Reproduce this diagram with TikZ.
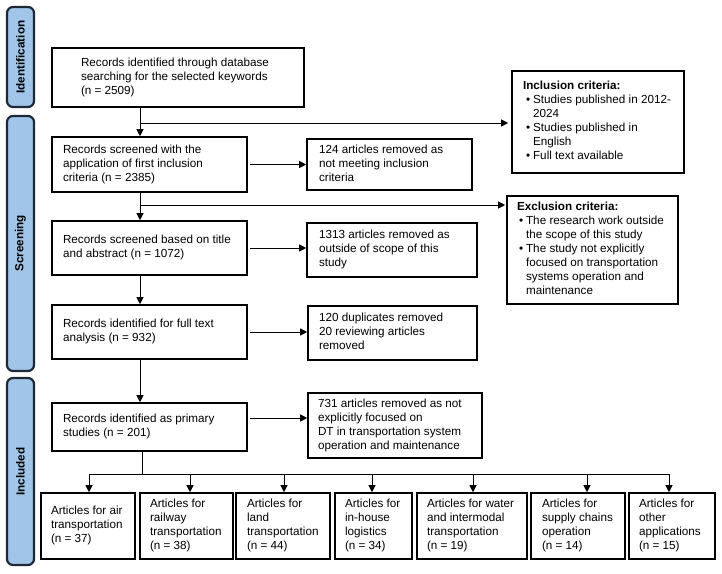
\documentclass[tikz,border=0pt]{standalone}
\usepackage{fontspec}
\setmainfont{Liberation Sans}
\usetikzlibrary{arrows.meta}
\definecolor{sidefill}{RGB}{160,197,232}
\definecolor{sidedraw}{RGB}{30,40,55}
\newcommand{\bt}[3]{\makebox[#1pt][l]{\hspace*{#2pt}\begin{tabular}{@{}l@{}}#3\end{tabular}}}
\newcommand{\crit}[4]{\makebox[#1pt][l]{\hspace*{#2pt}\begin{tabular}{@{}l@{\hspace{3pt}}l@{}}\multicolumn{2}{@{}l@{}}{\textbf{#3}}\\#4\end{tabular}}}
\begin{document}
\begin{tikzpicture}[x=1pt,y=-1pt,
  font=\fontsize{11.7}{14}\selectfont,
  box/.style={draw, line width=1.6pt, inner sep=0pt, anchor=center},
  side/.style={draw=sidedraw, fill=sidefill, line width=2.2pt, rounded corners=6pt, inner sep=0pt, rotate=90, minimum height=27pt, font=\fontsize{11.7}{14}\selectfont\bfseries},
  arr/.style={line width=0.9pt, -{Triangle[length=7pt,width=7pt]}},
  ln/.style={line width=0.9pt}]
\useasboundingbox (0,0) rectangle (722,573);

% side bars
\node[side, minimum width=100pt] (sid) at (20.5,57) {Identification};
\node[side, minimum width=255pt] (sscr) at (20.5,243.5) {Screening};
\node[side, minimum width=187pt] (sinc) at (20.5,471.5) {Included};

% main column
\node[box, minimum width=252pt, minimum height=59pt] (b1) at (178,77.5)
  {\bt{252}{29}{Records identified through database\\searching for the selected keywords\\(n = 2509)}};
\node[box, minimum width=195pt, minimum height=55pt] (b2) at (149.5,164.5)
  {\bt{195}{11}{Records screened with the\\application of first inclusion\\criteria (n = 2385)}};
\node[box, minimum width=195pt, minimum height=54pt] (b3) at (149.5,248)
  {\bt{195}{11}{Records screened based on title\\and abstract (n = 1072)}};
\node[box, minimum width=195pt, minimum height=54pt] (b4) at (149.5,332)
  {\bt{195}{11}{Records identified for full text\\analysis (n = 932)}};
\node[box, minimum width=195pt, minimum height=48pt] (b5) at (149.5,427)
  {\bt{195}{11}{Records identified as primary\\studies (n = 201)}};

% removal boxes
\node[box, minimum width=165pt, minimum height=51pt] (r1) at (389.5,164.5)
  {\bt{165}{12}{124 articles removed as\\not meeting inclusion\\criteria}};
\node[box, minimum width=170pt, minimum height=54pt] (r2) at (392,250)
  {\bt{170}{12}{1313 articles removed as\\outside of scope of this\\study}};
\node[box, minimum width=169pt, minimum height=54pt] (r3) at (392.5,333)
  {\bt{169}{11}{120 duplicates removed\\20 reviewing articles\\removed}};
\node[box, minimum width=174pt, minimum height=65pt] (r4) at (395,425.5)
  {\bt{174}{10}{731 articles removed as not\\explicitly focused on\\DT in transportation system\\operation and maintenance}};

% criteria boxes
\node[box, minimum width=172pt, minimum height=102pt] (inc) at (598,122)
  {\crit{172}{11}{Inclusion criteria:}{%
   \hspace*{3pt}\textbullet & Studies published in 2012-\\
   & 2024\\
   \hspace*{3pt}\textbullet & Studies published in\\
   & English\\
   \hspace*{3pt}\textbullet & Full text available}};
\node[box, minimum width=171pt, minimum height=108pt] (exc) at (592.5,250)
  {\crit{171}{10}{Exclusion criteria:}{%
   \hspace*{2pt}\textbullet & The research work outside\\
   & the scope of this study\\
   \hspace*{2pt}\textbullet & The study not explicitly\\
   & focused on transportation\\
   & systems operation and\\
   & maintenance}};

% category boxes
\node[box, minimum width=94pt, minimum height=66pt] (ca) at (88,526)
  {\bt{94}{10}{Articles for air\\transportation\\(n = 37)}};
\node[box, minimum width=93pt, minimum height=66pt] (cb) at (186.5,526)
  {\bt{93}{10}{Articles for\\railway\\transportation\\(n = 38)}};
\node[box, minimum width=94pt, minimum height=66pt] (cc) at (283,526)
  {\bt{94}{11}{Articles for\\land\\transportation\\(n = 44)}};
\node[box, minimum width=77pt, minimum height=66pt] (cd) at (373.5,526)
  {\bt{77}{10}{Articles for\\in-house\\logistics\\(n = 34)}};
\node[box, minimum width=110pt, minimum height=66pt] (ce) at (472,526)
  {\bt{110}{10}{Articles for water\\and intermodal\\transportation\\(n = 19)}};
\node[box, minimum width=94pt, minimum height=66pt] (cf) at (578,526)
  {\bt{94}{11}{Articles for\\supply chains\\operation\\(n = 14)}};
\node[box, minimum width=86pt, minimum height=66pt] (cg) at (672,526)
  {\bt{86}{10}{Articles for\\other\\applications\\(n = 15)}};

% connectors
\coordinate (k1) at (140,123);
\coordinate (k2) at (140,205);
\coordinate (k3) at (142,474);
\draw[arr] (b1.south -| k1) -- (b2.north -| k1);
\draw[arr, shorten >=3pt] (k1) -- (inc.west |- k1);
\draw[arr] (b2.south -| k1) -- (b3.north -| k1);
\draw[arr, shorten >=1pt] (k2) -- (exc.west |- k2);
\draw[arr] (b3.south -| k1) -- (b4.north -| k1);
\draw[arr] (b4.south -| k1) -- (b5.north -| k1);

\draw[arr, shorten <=2pt] (b2.east) -- (r1.west |- b2.east);
\draw[arr, shorten <=2pt] (b3.east) -- (r2.west |- b3.east);
\draw[arr, shorten <=2pt] (b4.east) -- (r3.west |- b4.east);
\draw[arr, shorten <=2pt] ([yshift=9pt]b5.east) -- ([yshift=9pt]b5.east -| r4.west);

\draw[ln] (b5.south -| k3) -- (k3);
\coordinate (d1) at (89,474);
\coordinate (d2) at (190,474);
\coordinate (d3) at (284,474);
\coordinate (d4) at (372,474);
\coordinate (d5) at (473,474);
\coordinate (d6) at (587,474);
\coordinate (d7) at (669,474);
\draw[ln] (d1) -- (d7);
\draw[arr] (d1) -- (ca.north -| d1);
\draw[arr] (d2) -- (cb.north -| d2);
\draw[arr] (d3) -- (cc.north -| d3);
\draw[arr] (d4) -- (cd.north -| d4);
\draw[arr] (d5) -- (ce.north -| d5);
\draw[arr] (d6) -- (cf.north -| d6);
\draw[arr] (d7) -- (cg.north -| d7);
\end{tikzpicture}
\end{document}
